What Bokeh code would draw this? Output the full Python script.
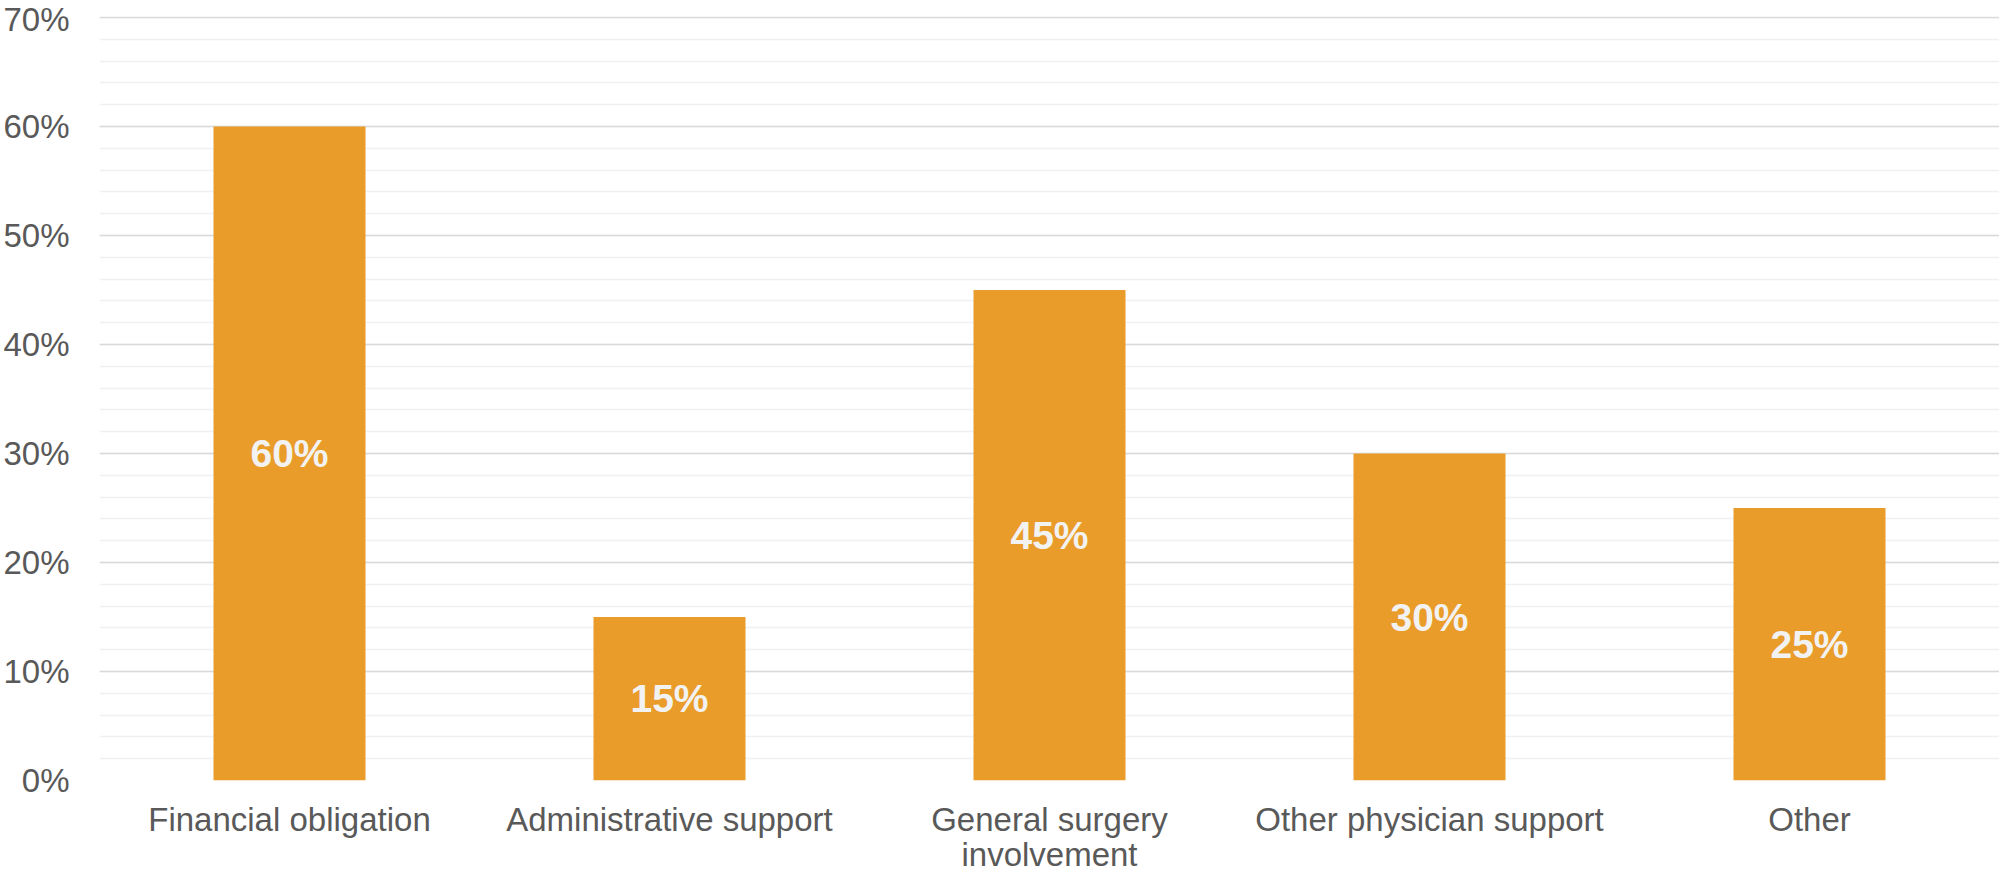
from bokeh.plotting import figure
from bokeh.models import (FactorRange, Range1d, SingleIntervalTicker, PrintfTickFormatter,
                          ColumnDataSource, CustomJSTickFormatter)
from bokeh.core.properties import value
from bokeh.embed import file_html
from bokeh.resources import INLINE
import json

categories = ["Financial obligation", "Administrative support", "General surgery involvement",
              "Other physician support", "Other"]
# category labels as drawn (with line breaks)
category_labels = ["Financial obligation", "Administrative support", "General surgery\ninvolvement",
                   "Other physician support", "Other"]
shares = [60, 15, 45, 30, 25]
share_labels = ["60%", "15%", "45%", "30%", "25%"]

FONT = "Liberation Sans"
TEXT_GRAY = "#595959"
BAR = "#EA9C2A"

src = ColumnDataSource(data=dict(
    cat=categories,
    share=shares,
    mid=[v / 2 for v in shares],
    lbl=share_labels,
))

p = figure(width=1999, height=876,
           x_range=FactorRange(*categories, range_padding=0),
           y_range=Range1d(0, 70.1),
           output_backend="svg", toolbar_location=None,
           min_border_left=98, min_border_right=0, min_border_top=16, min_border_bottom=96)
p.outline_line_color = None
p.background_fill_color = "white"
p.border_fill_color = "white"

p.vbar(x="cat", top="share", width=0.4, source=src, fill_color=BAR, line_color=None)
p.text(x="cat", y="mid", text="lbl", source=src, text_align="center", text_baseline="middle",
       text_color="#F2F2F2", text_font=value(FONT), text_font_style="bold", text_font_size="39px")

# y axis
p.yaxis.ticker = SingleIntervalTicker(interval=10, num_minor_ticks=5)
p.yaxis.formatter = PrintfTickFormatter(format="%d%%")
p.yaxis.axis_line_color = None
p.yaxis.major_tick_line_color = None
p.yaxis.minor_tick_line_color = None
p.yaxis.major_tick_out = 0
p.yaxis.minor_tick_out = 0
p.yaxis.major_label_standoff = 30
p.yaxis.major_label_text_font = FONT
p.yaxis.major_label_text_font_size = "33px"
p.yaxis.major_label_text_color = TEXT_GRAY

p.ygrid.grid_line_color = "#D9D9D9"
p.ygrid.grid_line_width = 1.5
p.ygrid.minor_grid_line_color = "#F0F0F0"
p.ygrid.minor_grid_line_width = 1.3
p.xgrid.grid_line_color = None

# x axis
ax = p.xaxis[0]
ax.axis_line_color = None
ax.major_tick_line_color = None
ax.major_tick_out = 0
ax.major_tick_in = 0
ax.major_label_standoff = 20
ax.major_label_text_font = FONT
ax.major_label_text_font_size = "33px"
ax.major_label_text_color = TEXT_GRAY
ax.major_label_text_line_height = 0.95
mapping = json.dumps(dict(zip(categories, category_labels)))
ax.formatter = CustomJSTickFormatter(code=f"const m = {mapping}; return (tick in m) ? m[tick] : tick;")

open("out.html", "w").write(file_html(p, INLINE))
